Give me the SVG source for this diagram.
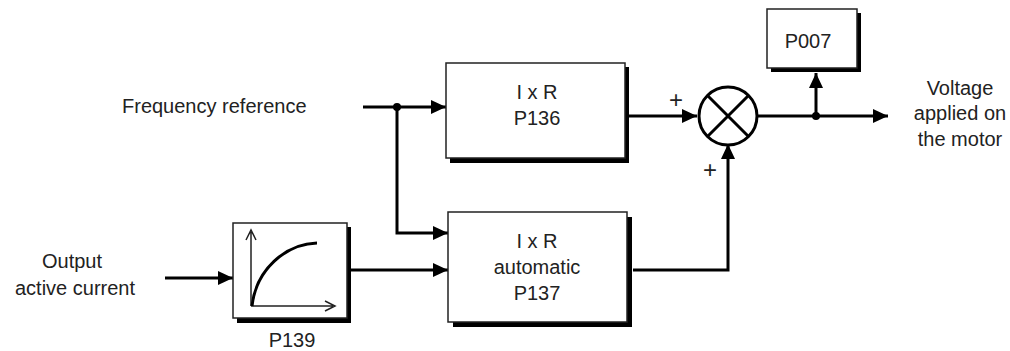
<svg xmlns="http://www.w3.org/2000/svg" width="1010" height="351" viewBox="0 0 1010 351">
<style>
.box{fill:#fff;stroke:#222;stroke-width:1.5}
.shadow{fill:#000}
.t{font-family:"Liberation Sans",Arial,sans-serif;font-size:20px;fill:#222;text-anchor:middle}
.tl{font-family:"Liberation Sans",Arial,sans-serif;font-size:20px;fill:#222}
.pl{font-family:"Liberation Sans",Arial,sans-serif;font-size:24px;fill:#222;text-anchor:middle}
.w{fill:none;stroke:#000;stroke-width:3}
.dot{fill:#000}
</style>
<defs>
<marker id="ah" markerUnits="userSpaceOnUse" markerWidth="16" markerHeight="14" refX="15" refY="7" orient="auto">
<path d="M0,0 L15,7 L0,14 z" fill="#000"/>
</marker>
</defs>
<rect width="1010" height="351" fill="#fff"/>

<g id="connectors">
<path class="w" d="M363,107 H446" marker-end="url(#ah)"/>
<path class="w" d="M397,107 V233 H448" marker-end="url(#ah)"/>
<circle class="dot" cx="397" cy="107" r="4"/>
<path class="w" d="M165,278 H233" marker-end="url(#ah)"/>
<path class="w" d="M351,270 H448" marker-end="url(#ah)"/>
<path class="w" d="M629,116 H697" marker-end="url(#ah)"/>
<path class="w" d="M633,270 H728 V144" marker-end="url(#ah)"/>
<path class="w" d="M758,116 H888" marker-end="url(#ah)"/>
<path class="w" d="M816,116 V73" marker-end="url(#ah)"/>
<circle class="dot" cx="816" cy="116" r="4"/>
<text class="pl" x="676" y="108">+</text>
<text class="pl" x="710" y="178">+</text>
</g>

<g id="ixr">
<rect class="shadow" x="450" y="67" width="179" height="96"/>
<rect class="box" x="446" y="63" width="179" height="95"/>
<text class="t" x="537" y="99">I x R</text>
<text class="t" x="537" y="125">P136</text>
</g>

<g id="ixr-auto">
<rect class="shadow" x="453" y="217" width="179" height="110"/>
<rect class="box" x="448" y="212" width="179" height="110"/>
<text class="t" x="537" y="248">I x R</text>
<text class="t" x="537" y="274">automatic</text>
<text class="t" x="537" y="300">P137</text>
</g>

<g id="p139">
<rect class="shadow" x="237" y="227" width="114" height="96"/>
<rect class="box" x="233" y="223" width="114" height="95"/>
<path d="M251,306 V232 M246,240 L251,230 L256,240 M251,306 H333 M325,301 L335,306 L325,311" fill="none" stroke="#222" stroke-width="1.5"/>
<path d="M252,306 C256,270 285,244 317,243" fill="none" stroke="#000" stroke-width="3"/>
<text class="t" x="292" y="347">P139</text>
</g>

<g id="sum">
<circle cx="728" cy="116" r="29" fill="#fff" stroke="#000" stroke-width="3"/>
<path d="M707.5,95.5 L748.5,136.5 M748.5,95.5 L707.5,136.5" stroke="#000" stroke-width="3"/>
</g>

<g id="p007">
<rect class="shadow" x="771" y="13" width="90" height="59"/>
<rect class="box" x="767" y="9" width="90" height="59"/>
<text class="t" x="808" y="48">P007</text>
</g>

<g id="labels">
<text class="tl" x="122" y="113">Frequency reference</text>
<text class="t" x="72" y="268">Output</text>
<text class="t" x="75" y="295">active current</text>
<text class="t" x="960" y="95">Voltage</text>
<text class="t" x="960" y="120">applied on</text>
<text class="t" x="960" y="146">the motor</text>
</g>
</svg>
